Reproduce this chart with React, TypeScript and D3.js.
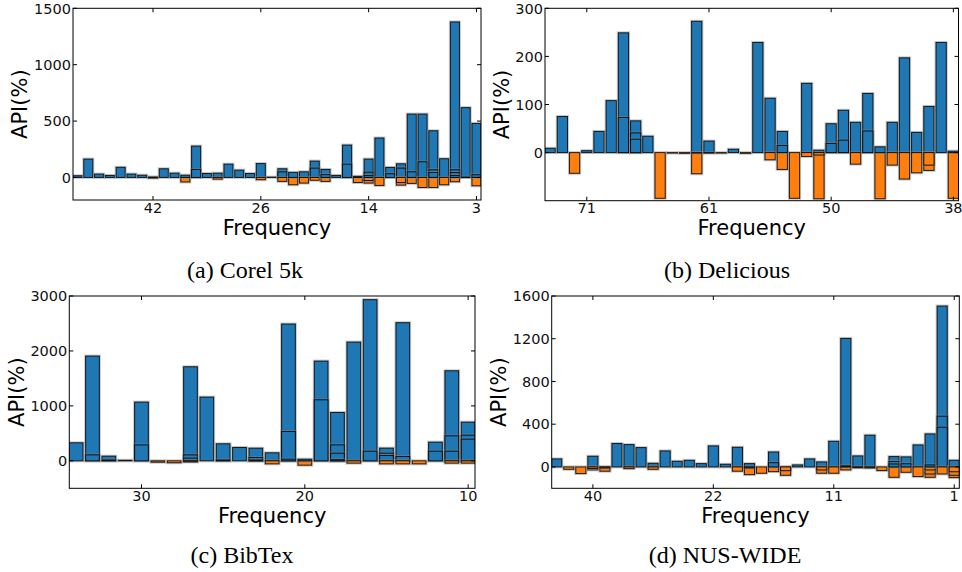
import * as d3 from 'd3';

// API(%) per frequency bucket; each bucket holds the overlaid bars of the compared methods
const corelValues: number[][] = [
  [15], [163], [30], [18], [90], [30], [20], [5, -5], [77], [38],
  [20, -40], [278, 71], [35], [38, -15], [118], [65], [35], [123, -20], [3], [77, 50, -35],
  [45, -65], [50, -50], [145, 83, -25], [71, 25, -35], [18], [287, 118], [10, -45],
  [163, 47, 18, -27, -50], [350, -71], [89, 33], [121, 83, -45, -68], [562, 50, -53],
  [562, 139, -89], [414, 68, 44, -89], [166, -65], [1379, 68, 44, 18, -38], [619, 3],
  [479, 24, -74],
];
const corelTicks = ['42', '26', '14', '3'];

const deliciousValues: number[][] = [
  [9], [75], [-43], [4], [44], [108], [249, 73], [66, 41, 28], [34], [-95],
  [-1], [-1.5], [273, -1, -44], [24, -1], [-1], [7], [-1.5], [229], [113, -15], [44, 15, -35],
  [-95], [144, -8], [5, -5, -96], [60, 19], [88, 26], [63, -24], [123, 45], [12, -96],
  [63, -26], [197, -55], [42, -42], [96, -26, -37], [229], [3, -95],
];
const deliciousTicks = ['71', '61', '50', '38'];

const bibtexValues: number[][] = [
  [328], [1907, 109], [85, 15], [10], [1069, 290], [-25], [-35], [1712, 109, 50, -20],
  [1160], [310, 15], [243], [230, 61, 15], [146, -55], [2490, 534, 30], [30, -79],
  [1815, 1111], [880, 291, 140, 20], [2161, -42], [2933, 176], [231, 140, 97, -55],
  [2514, 79, -55], [-55], [340, 176], [1639, 455, 176, -42], [704, 467, 395, -42],
];
const bibtexTicks = ['30', '20', '10'];

const nusValues: number[][] = [
  [75], [-22], [-62], [100, -15, -28], [-40, -10], [219], [209, -16], [181], [34, -22], [150],
  [53], [62], [31], [197], [25], [184, -40], [31, -10, -72], [-59], [140, 40, -44], [-78, -35],
  [19], [75], [47, -28, -59], [240, -59], [1203, 10, -28], [103, -8], [297, -10], [-34],
  [97, 50, 28, -97], [94, 30, -50], [206, -90], [309, 19, -28, -66, -97],
  [1506, 475, 372, -66], [62, -45, -78, -100],
];
const nusTicks = ['40', '22', '11', '1'];

const BLUE = '#1f77b4';
const ORANGE = '#ff7f0e';
const SANS = '"DejaVu Sans", sans-serif';
const SERIF = '"Liberation Serif", "Times New Roman", serif';

interface PanelProps {
  id: string;
  values: number[][];
  tickLabels: string[];
  tickStart: number;
  box: { x0: number; x1: number; y0: number; y1: number };
  yDomain: [number, number];
  yTicks: number[];
  yLabelX: number;
  caption: string;
  captionX: number;
  captionY: number;
}

function Panel({
  id, values, tickLabels, tickStart, box, yDomain, yTicks, yLabelX, caption, captionX, captionY,
}: PanelProps) {
  const { x0, x1, y0, y1 } = box;
  const x = d3
    .scaleBand<number>()
    .domain(values.map((_, i) => i))
    .range([x0, x1])
    .paddingInner(0.16)
    .paddingOuter(0);
  const y = d3.scaleLinear().domain(yDomain).range([y1, y0]);
  const bw = x.bandwidth();
  const tickIdx = tickLabels.map((_, i) => tickStart + i * 10);

  return (
    <g>
      <defs>
        <clipPath id={`clip-${id}`}>
          <rect x={x0} y={y0} width={x1 - x0} height={y1 - y0} />
        </clipPath>
      </defs>
      <g clipPath={`url(#clip-${id})`}>
        {values.map((vals, i) => {
          // biggest bar first so the smaller overlaid ones show as edges on top
          const sorted = [...vals].sort((a, b) => Math.abs(b) - Math.abs(a));
          return sorted.map((v, j) => {
            const top = Math.min(y(v), y(0));
            const h = Math.max(Math.abs(y(v) - y(0)), 0.3);
            return (
              <g key={`${i}-${j}`}>
                <rect x={x(i)} y={top} width={bw} height={h} fill="none"
                  stroke="#888" strokeOpacity={0.45} strokeWidth={3} />
                <rect x={x(i)} y={top} width={bw} height={h}
                  fill={v >= 0 ? BLUE : ORANGE} stroke="#000" strokeOpacity={0.85} strokeWidth={1} />
              </g>
            );
          });
        })}
      </g>
      <rect x={x0} y={y0} width={x1 - x0} height={y1 - y0} fill="none" stroke="#000" strokeWidth={1} />
      {yTicks.map((t) => (
        <g key={`y${t}`}>
          <line x1={x0} x2={x0 + 4} y1={y(t)} y2={y(t)} stroke="#000" />
          <line x1={x1} x2={x1 - 4} y1={y(t)} y2={y(t)} stroke="#000" />
          <text x={x0 - 2} y={y(t)} dy="0.36em" textAnchor="end" fontSize={14.5}
            fontFamily={SANS} fill="#111">{t}</text>
        </g>
      ))}
      {tickIdx.map((ti, k) => {
        const cx = (x(ti) ?? 0) + bw / 2;
        return (
          <g key={`x${ti}`}>
            <line x1={cx} x2={cx} y1={y1} y2={y1 - 4} stroke="#000" />
            <line x1={cx} x2={cx} y1={y0} y2={y0 + 4} stroke="#000" />
            <text x={cx} y={y1 + 12.5} textAnchor="middle" fontSize={14.5}
              fontFamily={SANS} fill="#111">{tickLabels[k]}</text>
          </g>
        );
      })}
      <text x={(x0 + x1) / 2} y={y1 + 34.5} textAnchor="middle" fontSize={21}
        fontFamily={SANS} fill="#000">Frequency</text>
      <text transform={`translate(${yLabelX},${(y0 + y1) / 2}) rotate(-90)`} textAnchor="middle"
        fontSize={21} fontFamily={SANS} fill="#000">API(%)</text>
      <text x={captionX} y={captionY} textAnchor="middle" fontSize={24}
        fontFamily={SERIF} fill="#000">{caption}</text>
    </g>
  );
}

export default function App() {
  return (
    <svg width={962} height={572} style={{ position: 'absolute', left: 0, top: 0, background: '#fff' }}>
      <rect width={962} height={572} fill="#fff" />
      <Panel id="a" values={corelValues} tickLabels={corelTicks} tickStart={7}
        box={{ x0: 73, x1: 481, y0: 8.3, y1: 200 }} yDomain={[-200, 1500]}
        yTicks={[0, 500, 1000, 1500]} yLabelX={27} caption="(a) Corel 5k" captionX={245} captionY={278} />
      <Panel id="b" values={deliciousValues} tickLabels={deliciousTicks} tickStart={3}
        box={{ x0: 545, x1: 958.5, y0: 8.3, y1: 200.7 }} yDomain={[-100, 300]}
        yTicks={[0, 100, 200, 300]} yLabelX={508.5} caption="(b) Delicious" captionX={727} captionY={278} />
      <Panel id="c" values={bibtexValues} tickLabels={bibtexTicks} tickStart={4}
        box={{ x0: 69.3, x1: 475, y0: 296, y1: 488.3 }} yDomain={[-500, 3000]}
        yTicks={[0, 1000, 2000, 3000]} yLabelX={23.5} caption="(c) BibTex" captionX={242} captionY={563} />
      <Panel id="d" values={nusValues} tickLabels={nusTicks} tickStart={3}
        box={{ x0: 551.7, x1: 959.3, y0: 296, y1: 488.3 }} yDomain={[-200, 1600]}
        yTicks={[0, 400, 800, 1200, 1600]} yLabelX={506} caption="(d) NUS-WIDE" captionX={725} captionY={563} />
    </svg>
  );
}
